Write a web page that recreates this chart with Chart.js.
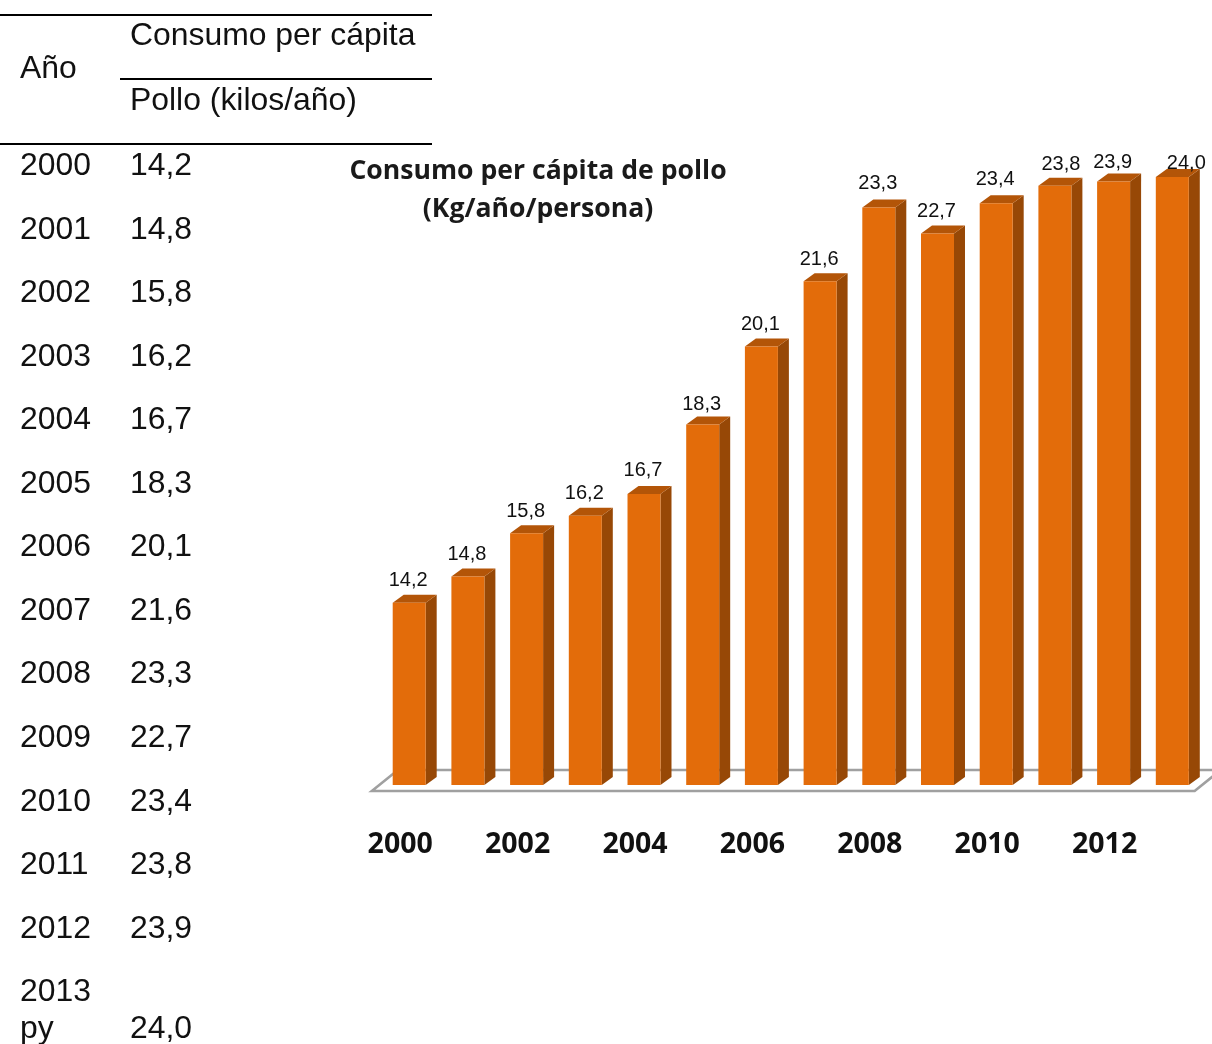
<!DOCTYPE html>
<html lang="es">
<head>
<meta charset="utf-8">
<title>Consumo per cápita de pollo</title>
<script src="https://cdn.jsdelivr.net/npm/chart.js@4"></script>
<style>
html,body{margin:0;padding:0;background:#fff;width:1212px;height:1044px;overflow:hidden}
#wrap{position:relative;width:1212px;height:1044px}
canvas{position:absolute;left:0;top:0}
.t{position:absolute;font-family:"Liberation Sans",Arial,sans-serif;font-size:31.9px;line-height:40px;color:#111;white-space:nowrap}
.r{position:absolute;height:2px;background:#000}
</style>
</head>
<body>
<div id="wrap"><canvas id="c" width="1212" height="1044"></canvas></div>
<script>
const categories = ['2000','2001','2002','2003','2004','2005','2006','2007','2008','2009','2010','2011','2012','2013'];
const rowLabels = ['2000','2001','2002','2003','2004','2005','2006','2007','2008','2009','2010','2011','2012','2013 py'];
const consumo = [14.2,14.8,15.8,16.2,16.7,18.3,20.1,21.6,23.3,22.7,23.4,23.8,23.9,24.0];
const chartTitle = ['Consumo per cápita de pollo','(Kg/año/persona)'];
const tableHead = ['Año','Consumo per cápita','Pollo (kilos/año)'];

const fmt = v => v.toFixed(1).replace('.',',');

// Table built from the same data
const wrap = document.getElementById('wrap');
function text(s,x,cy){const d=document.createElement('div');d.className='t';d.textContent=s;d.style.left=x+'px';d.style.top=(cy-20)+'px';wrap.appendChild(d);}
function rule(x,y,w){const d=document.createElement('div');d.className='r';d.style.left=x+'px';d.style.top=y+'px';d.style.width=w+'px';wrap.appendChild(d);}
rule(0,14,432);rule(120,78,312);rule(0,143,432);
text(tableHead[0],20,67);text(tableHead[1],130,34);text(tableHead[2],130,99);
rowLabels.forEach((r,i)=>{
  const cy = 164 + i*63.55;
  if(r.includes(' ')){
    const p=r.split(' ');
    text(p[0],20,990);text(p[1],20,1027);text(fmt(consumo[i]),130,1027);
  } else {
    text(r,20,cy);text(fmt(consumo[i]),130,cy);
  }
});

const DX=11, DY=8;
const labelShift = {4:[-1,-2],5:[-1,2],8:[-1,-2],10:[-1,-2],11:[6,1],12:[-1,3],13:[14,8]};
const bars3d = {
  id:'bars3d',
  afterLayout(chart){
    const t=chart.titleBlock;
    t.left=238;t.right=838;t.top=152.5;t.bottom=t.top+76;
  },
  beforeDatasetsDraw(chart){
    const {ctx,chartArea:a}=chart;
    const b=a.bottom;
    ctx.save();
    ctx.strokeStyle='#a0a0a0';ctx.lineWidth=2.6;ctx.lineJoin='miter';
    ctx.beginPath();
    ctx.moveTo(a.left-8,b+6);
    ctx.lineTo(a.left+18,b-15);
    ctx.lineTo(a.right+19,b-15);
    ctx.lineTo(a.right-7,b+6);
    ctx.closePath();ctx.stroke();
    chart.getDatasetMeta(0).data.forEach(el=>{
      const l=el.x-el.width/2,r=el.x+el.width/2,t=el.y;
      ctx.fillStyle='#974806';
      ctx.beginPath();ctx.moveTo(r,t);ctx.lineTo(r+DX,t-DY);ctx.lineTo(r+DX,b-DY);ctx.lineTo(r,b);ctx.closePath();ctx.fill();
      ctx.fillStyle='#b35508';
      ctx.beginPath();ctx.moveTo(l,t);ctx.lineTo(l+DX,t-DY);ctx.lineTo(r+DX,t-DY);ctx.lineTo(r,t);ctx.closePath();ctx.fill();
    });
    ctx.restore();
  },
  afterDatasetsDraw(chart){
    const {ctx}=chart;
    ctx.save();
    ctx.font='20px "Liberation Sans",Arial,sans-serif';
    ctx.fillStyle='#111';ctx.textAlign='center';ctx.textBaseline='middle';
    chart.getDatasetMeta(0).data.forEach((el,i)=>{
      const s=labelShift[i]||[-1,0];
      ctx.fillText(fmt(consumo[i]),el.x+s[0],el.y-22+s[1]);
    });
    ctx.restore();
  }
};

new Chart(document.getElementById('c'),{
  type:'bar',
  data:{labels:categories,datasets:[{label:'Consumo per cápita de pollo',data:consumo,backgroundColor:'#e36c0a',borderWidth:0,barPercentage:1,categoryPercentage:0.562}]},
  plugins:[bars3d],
  options:{
    responsive:false,animation:false,
    layout:{padding:{left:379.85,right:10.35,top:57.7,bottom:189}},
    plugins:{
      legend:{display:false},tooltip:{enabled:false},
      title:{display:true,text:chartTitle,color:'#1a1a1a',align:'center',padding:0,font:{family:'"Open Sans"',size:26.6,weight:'bold',lineHeight:'38px'}}
    },
    scales:{
      y:{display:false,min:10,max:25},
      x:{
        offset:true,
        grid:{display:false,drawTicks:false},border:{display:false},
        afterFit(s){s.height=70;s.paddingLeft=0;s.paddingRight=0;},
        ticks:{autoSkip:false,maxRotation:0,minRotation:0,labelOffset:-9,padding:43,color:'#111',
          font:{family:'"Open Sans"',size:28.5,weight:'bold'},
          callback(v,i){return i%2===0?this.getLabelForValue(v):'';}}
      }
    }
  }
});
</script>
</body>
</html>
